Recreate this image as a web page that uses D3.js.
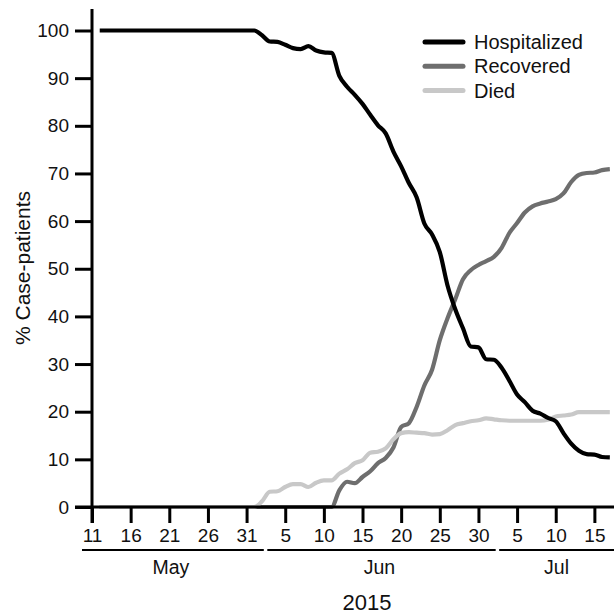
<!DOCTYPE html>
<html>
<head>
<meta charset="utf-8">
<script src="https://cdn.jsdelivr.net/npm/d3@7"></script>
<style>
  html, body { margin: 0; padding: 0; background: #fff; }
  svg { display: block; font-family: "Liberation Sans", Arial, sans-serif; }
</style>
</head>
<body>
<svg id="chart" width="614" height="615"></svg>
<script>
// ---------------- data ----------------
const startDate = new Date(2015, 4, 12);   // May 12, 2015
const endDate = new Date(2015, 6, 18);     // exclusive (last = Jul 17)
const dates = d3.timeDay.range(startDate, endDate);

const hospitalized = [
  100,100,100,100,100,100,100,100,100,100,100,100,100,100,100,100,100,100,100,100,100,
  99, 97.7, 97.6, 97.0, 96.3, 96.1, 96.7, 95.8, 95.4, 95.3,
  90.5, 88.2, 86.5, 84.6, 82.3, 80.1, 78.4, 74.6, 71.5, 68.0,
  65.0, 59.5, 57.2, 53.5, 46.5, 41.5, 37.5, 33.7, 33.5,
  31.0, 30.9, 29.2, 26.5, 23.6, 22.0, 20.2, 19.6, 18.7, 18.0, 15.5, 13.3, 11.8, 11.1, 11.0, 10.5, 10.4
];
const recovered = [
  0,0,0,0,0,0,0,0,0,0,0,0,0,0,0,0,0,0,0,0,0,
  0,0,0,0,0,0,0,0,0,0,
  3.5, 5.3, 5.0, 6.3, 7.5, 9.2, 10.3, 12.5, 16.8, 17.6,
  21.0, 25.5, 28.8, 35.0, 39.6, 43.6, 47.8, 49.7, 50.8,
  51.6, 52.5, 54.4, 57.5, 59.6, 61.8, 63.1, 63.7, 64.1, 64.6, 65.8, 68.2, 69.7, 70.1, 70.2, 70.7, 70.9
];
const died = [
  0,0,0,0,0,0,0,0,0,0,0,0,0,0,0,0,0,0,0,0,0,
  1.2, 3.2, 3.3, 4.2, 4.8, 4.8, 4.2, 5.1, 5.6, 5.6,
  7.0, 7.9, 9.2, 9.8, 11.4, 11.6, 12.3, 14.2, 15.5, 15.7,
  15.6, 15.5, 15.2, 15.3, 16.1, 17.2, 17.6, 18.0, 18.2,
  18.6, 18.4, 18.2, 18.1, 18.1, 18.1, 18.1, 18.1, 18.3, 19.0, 19.2, 19.4, 19.9, 19.9, 19.9, 19.9, 19.9
];

const seriesNames = ["Hospitalized", "Recovered", "Died"];
const seriesColors = ["#000000", "#6e6e6e", "#c8c8c8"];

const yTicks = [0, 10, 20, 30, 40, 50, 60, 70, 80, 90, 100];
const xTickDates = [
  new Date(2015,4,11), new Date(2015,4,16), new Date(2015,4,21), new Date(2015,4,26), new Date(2015,4,31),
  new Date(2015,5,5), new Date(2015,5,10), new Date(2015,5,15), new Date(2015,5,20), new Date(2015,5,25), new Date(2015,5,30),
  new Date(2015,6,5), new Date(2015,6,10), new Date(2015,6,15)
];
const monthNames = ["May", "Jun", "Jul"];
const monthStarts = [new Date(2015,4,1), new Date(2015,5,1), new Date(2015,6,1)];
const yearLabel = "2015";
const yTitle = "% Case-patients";

// ---------------- layout ----------------
const svg = d3.select("#chart");
const W = 614, H = 615;
const x0 = 92, y0 = 507;

const x = d3.scaleTime()
  .domain([new Date(2015,4,11), new Date(2015,6,17)])
  .range([x0, x0 + 66 * 7.846]);
const y = d3.scaleLinear().domain([0, 100]).range([y0, 30.5]);

// ---------------- lines ----------------
const seriesValues = [hospitalized, recovered, died];
const line = d3.line()
  .x(d => x(d.date))
  .y(d => y(d.v))
  .curve(d3.curveMonotoneX);

svg.append("clipPath").attr("id", "plotclip")
  .append("rect").attr("x", 0).attr("y", 0).attr("width", W).attr("height", H);

const drawOrder = [1, 2, 0];
const gLines = svg.append("g").attr("clip-path", "url(#plotclip)");
drawOrder.forEach(i => {
  const data = dates.map((d, k) => ({ date: d, v: seriesValues[i][k] }));
  gLines.append("path")
    .datum(data)
    .attr("d", line)
    .attr("fill", "none")
    .attr("stroke", seriesColors[i])
    .attr("stroke-width", 4.2)
    .attr("stroke-linejoin", "round");
});

// ---------------- axes ----------------
const axisColor = "#000";
svg.append("line")
  .attr("x1", x0).attr("x2", x0)
  .attr("y1", 9).attr("y2", y0 + 16)
  .attr("stroke", axisColor).attr("stroke-width", 3);
svg.append("line")
  .attr("x1", x0 - 17).attr("x2", W + 5)
  .attr("y1", y0).attr("y2", y0)
  .attr("stroke", axisColor).attr("stroke-width", 3);

const yAxis = d3.axisLeft(y).tickValues(yTicks).tickSize(17).tickPadding(6).tickFormat(d3.format("d"));
const gy = svg.append("g").attr("transform", `translate(${x0},0)`).call(yAxis);
gy.select(".domain").remove();
gy.selectAll(".tick line").attr("stroke", axisColor).attr("stroke-width", 3);
gy.selectAll(".tick text")
  .attr("font-size", "19px")
  .attr("font-family", "Liberation Sans, Arial, sans-serif")
  .attr("fill", "#111");

const xAxis = d3.axisBottom(x).tickValues(xTickDates).tickSize(16).tickPadding(6).tickFormat(d3.timeFormat("%-d"));
const gx = svg.append("g").attr("transform", `translate(0,${y0})`).call(xAxis);
gx.select(".domain").remove();
gx.selectAll(".tick line").attr("stroke", axisColor).attr("stroke-width", 3);
gx.selectAll(".tick text")
  .attr("font-size", "19px")
  .attr("font-family", "Liberation Sans, Arial, sans-serif")
  .attr("fill", "#111");

// month bars & labels
const barY = 550;
monthNames.forEach((m, i) => {
  const left = i === 0 ? x0 - 10 : x(monthStarts[i]) + 13;
  const right = i < monthNames.length - 1 ? x(monthStarts[i + 1]) + 9.5 : W + 5;
  svg.append("line")
    .attr("x1", left).attr("x2", right)
    .attr("y1", barY).attr("y2", barY)
    .attr("stroke", "#000").attr("stroke-width", 2.2);
  const cx = i < monthNames.length - 1 ? (left + right) / 2 - 2 : (left + Math.min(right, W)) / 2;
  svg.append("text")
    .attr("x", cx).attr("y", 573.5)
    .attr("text-anchor", "middle")
    .attr("font-size", "19.5px")
    .attr("fill", "#111")
    .text(m);
});

// year label
svg.append("text")
  .attr("x", 367).attr("y", 609.5)
  .attr("text-anchor", "middle")
  .attr("font-size", "22px")
  .attr("fill", "#111")
  .text(yearLabel);

// y title
svg.append("text")
  .attr("transform", "translate(22,268) rotate(-90)")
  .attr("text-anchor", "middle")
  .attr("dominant-baseline", "central")
  .attr("font-size", "21px")
  .attr("fill", "#111")
  .text(yTitle);

// ---------------- legend ----------------
const legend = svg.append("g");
seriesNames.forEach((name, i) => {
  const ly = 42 + i * 24.3;
  legend.append("line")
    .attr("x1", 425).attr("x2", 463)
    .attr("y1", ly).attr("y2", ly)
    .attr("stroke", seriesColors[i])
    .attr("stroke-width", 5)
    .attr("stroke-linecap", "round");
  legend.append("text")
    .attr("x", 474).attr("y", ly)
    .attr("dominant-baseline", "central")
    .attr("font-size", "20px")
    .attr("fill", "#111")
    .text(name);
});
</script>
</body>
</html>
